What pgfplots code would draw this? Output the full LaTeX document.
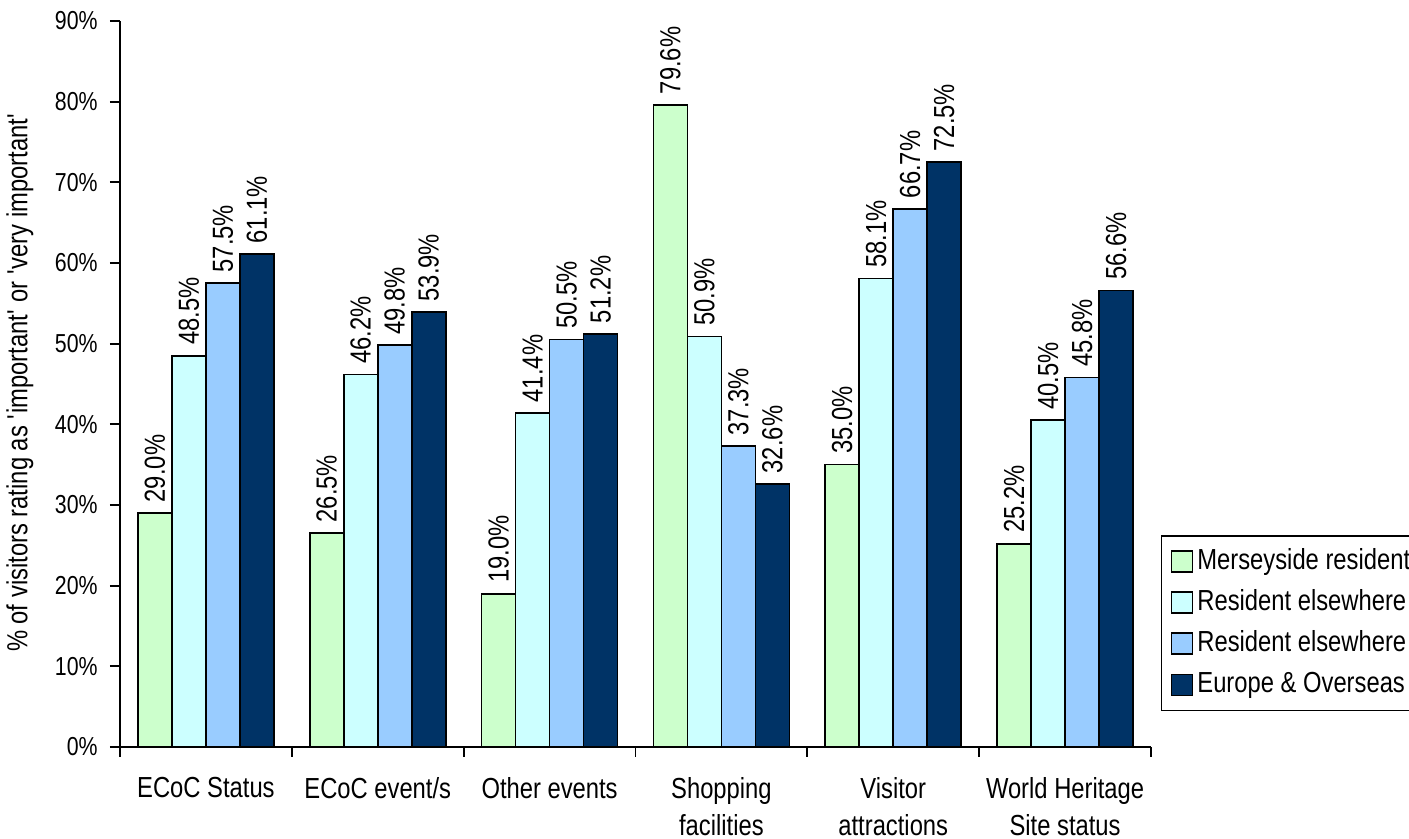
\documentclass[border=0pt]{standalone}
\usepackage{fontspec}
% condensed sans, close to Arial Narrow
\setmainfont{Liberation Sans}[FakeStretch=0.82]
\usepackage{pgfplots}
\pgfplotsset{compat=1.18}
\usepackage{pgfplotstable}

\definecolor{merseyside}{HTML}{CCFFCC}
\definecolor{northwest}{HTML}{CCFFFF}
\definecolor{restuk}{HTML}{99CCFF}
\definecolor{overseas}{HTML}{003366}

\newcommand{\labelfont}{\fontsize{14.5}{18.5}\selectfont}
\newcommand{\tickfont}{\fontsize{13}{15}\selectfont}

% Share of visitors rating each factor as important, by origin
\pgfplotstableread{
x  mers  nw    uk    eu
0  29.0  48.5  57.5  61.1
1  26.5  46.2  49.8  53.9
2  19.0  41.4  50.5  51.2
3  79.6  50.9  37.3  32.6
4  35.0  58.1  66.7  72.5
5  25.2  40.5  45.8  56.6
}\visitdata

\begin{document}
\begin{tikzpicture}
\useasboundingbox (0,0) rectangle (704.5pt,419.5pt);
\begin{axis}[
  at={(60pt,46pt)}, anchor=south west,
  scale only axis,
  width=515.5pt, height=363pt,
  font=\labelfont,
  ybar=0pt, bar width=17pt,
  xmin=-0.5, xmax=5.5, ymin=0, ymax=90,
  enlargelimits=false,
  axis x line*=bottom, axis y line*=left,
  axis line style={line width=0.9pt},
  tick style={line width=0.9pt, black},
  tick align=outside,
  major tick length=5pt,
  xtick={-0.5,0.5,...,5.5}, xticklabels={},
  extra x ticks={0,1,2,3,4,5},
  extra x tick labels={ECoC Status,ECoC event/s,Other events,Shopping\\facilities,Visitor\\attractions,World Heritage\\Site status},
  extra x tick style={major tick length=0pt},
  xticklabel style={align=center, anchor=north, inner sep=0pt, yshift=-15pt, font=\labelfont},
  ytick={0,10,...,90},
  yticklabel={\pgfmathprintnumber{\tick}\%},
  yticklabel style={anchor=east, inner sep=0pt, xshift=-6pt, font=\tickfont},
  /pgf/number format/assume math mode=true,
  ylabel={\% of visitors rating as \textquotesingle important\textquotesingle\ or \textquotesingle very important\textquotesingle},
  ylabel style={at={(axis description cs:-0.097,0.502)}, anchor=center, font=\labelfont},
  nodes near coords={\pgfmathprintnumber[fixed,fixed zerofill,precision=1]{\pgfplotspointmeta}\%},
  every node near coord/.append style={rotate=90, anchor=west, inner xsep=5pt, inner ysep=0pt, black, font=\labelfont},
  legend style={at={(axis description cs:1.0095,0.292)}, anchor=north west,
    draw=black, line width=0.8pt, inner xsep=4.5pt, inner ysep=6pt,
    row sep=7pt, font=\labelfont,
    nodes={inner xsep=2pt, inner ysep=0pt, text height=10.6pt, text depth=3pt}},
  legend cell align=left,
  legend image code/.code={\draw[#1, draw=black, line width=0.9pt] (0pt,-5.25pt) rectangle (10.5pt,5.25pt);},
]
\addplot[fill=merseyside, draw=black, line width=0.8pt] table[x=x, y=mers] {\visitdata};
\addplot[fill=northwest, draw=black, line width=0.8pt] table[x=x, y=nw] {\visitdata};
\addplot[fill=restuk, draw=black, line width=0.8pt] table[x=x, y=uk] {\visitdata};
\addplot[fill=overseas, draw=black, line width=0.8pt] table[x=x, y=eu] {\visitdata};
\legend{Merseyside resident,Resident elsewhere,Resident elsewhere,Europe \& Overseas}
\end{axis}
\end{tikzpicture}
\end{document}
